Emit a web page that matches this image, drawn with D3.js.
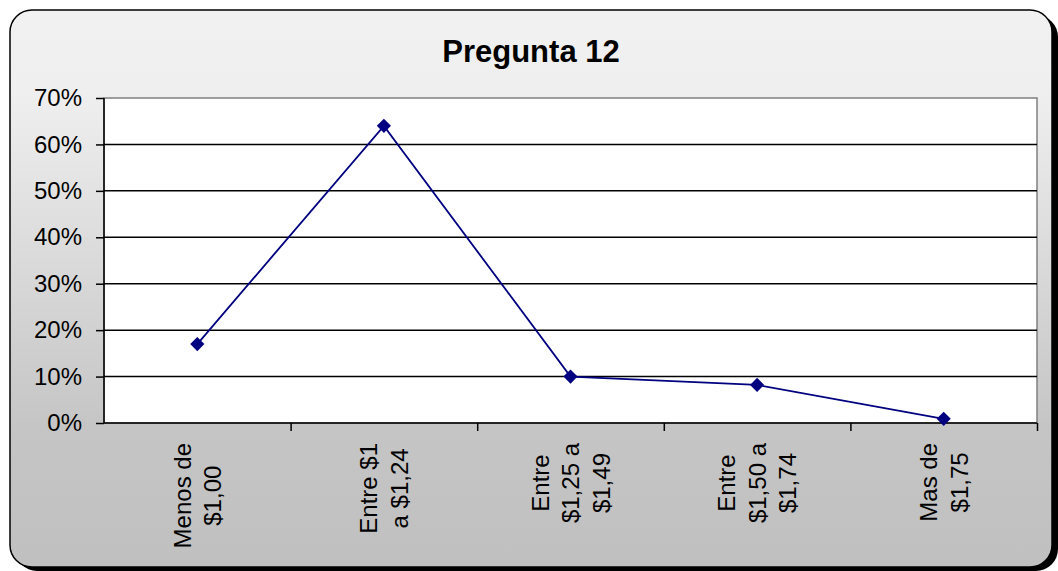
<!DOCTYPE html>
<html><head><meta charset="utf-8">
<script src="https://cdn.jsdelivr.net/npm/d3@7"></script>
<style>body{margin:0;background:#fff}svg{display:block}text{font-family:"Liberation Sans",Arial,sans-serif}</style>
</head><body>
<svg id="c" width="1058" height="571"></svg>
<script>
const title = "Pregunta 12";
const categories = [["Menos de","$1,00"],["Entre $1","a $1,24"],["Entre","$1,25 a","$1,49"],["Entre","$1,50 a","$1,74"],["Mas de","$1,75"]];
const values = [0.17, 0.64, 0.10, 0.082, 0.009];
const yTicks = [0,0.1,0.2,0.3,0.4,0.5,0.6,0.7];

const svg = d3.select("#c");
const defs = svg.append("defs");
const g = defs.append("linearGradient").attr("id","bg").attr("x1",0).attr("y1",0).attr("x2",0).attr("y2",1);
g.append("stop").attr("offset","0").attr("stop-color","#f1f1f1");
g.append("stop").attr("offset","0.15").attr("stop-color","#efefef");
g.append("stop").attr("offset","0.75").attr("stop-color","#c5c5c5");
g.append("stop").attr("offset","1").attr("stop-color","#c0c0c0");

// shadow
svg.append("rect").attr("x",15).attr("y",15).attr("width",1043).attr("height",556).attr("rx",22).attr("fill","#000");
svg.append("rect").attr("x",10).attr("y",10).attr("width",1042).attr("height",557).attr("rx",22)
  .attr("fill","url(#bg)").attr("stroke","#000").attr("stroke-width",1.5);

const L=104, R=1037, T=98, B=423;
const x = d3.scaleBand().domain(d3.range(categories.length)).range([L,R]);
const y = d3.scaleLinear().domain([0,0.7]).range([B,T]);

svg.append("rect").attr("x",L).attr("y",T).attr("width",R-L).attr("height",B-T).attr("fill","#fff")
  .attr("stroke","#808080").attr("stroke-width",1.5);

// gridlines
svg.append("g").selectAll("line").data(yTicks.filter(d=>d>0 && d<0.7)).join("line")
  .attr("x1",L).attr("x2",R).attr("y1",d=>y(d)).attr("y2",d=>y(d)).attr("stroke","#000").attr("stroke-width",1.5);

// y axis
const ya = svg.append("g").attr("transform",`translate(${L},0)`)
  .call(d3.axisLeft(y).tickValues(yTicks).tickFormat(d3.format(".0%")).tickSize(8).tickPadding(14));
ya.select(".domain").attr("stroke","#000").attr("stroke-width",1.5).attr("d",`M0,${T}V${B}`);
ya.selectAll(".tick line").attr("stroke","#000").attr("stroke-width",1.5);
ya.selectAll(".tick text").attr("font-size",24).attr("fill","#000").attr("font-family","Liberation Sans, Arial, sans-serif");

// x axis
const xa = svg.append("g").attr("transform",`translate(0,${B})`)
  .call(d3.axisBottom(d3.scaleLinear().domain([0,categories.length]).range([L,R])).ticks(categories.length).tickSize(8).tickFormat(""));
xa.select(".domain").attr("stroke","#000").attr("stroke-width",1.5).attr("d",`M${L},0H${R}`);
xa.selectAll(".tick line").attr("stroke","#000").attr("stroke-width",1.5);
xa.selectAll(".tick").filter((d)=>d===0).remove();

// category labels
const lh = 30.5, cap = 17.2, topY = 443;
categories.forEach((lines,i)=>{
  const cx = x(i)+x.bandwidth()/2;
  const grp = svg.append("g");
  const texts = lines.map(l=>grp.append("text").text(l).attr("font-size",24).attr("text-anchor","middle").attr("fill","#000"));
  const maxLen = d3.max(texts, t=>t.node().getComputedTextLength());
  const cy = topY + maxLen/2;
  const n = lines.length;
  texts.forEach((t,j)=>{
    const bx = cx + cap/2 + (j-(n-1)/2)*lh;
    t.attr("transform",`translate(${bx},${cy}) rotate(-90)`);
  });
});

// line
const line = d3.line().x((d,i)=>x(i)+x.bandwidth()/2).y(d=>y(d));
svg.append("path").datum(values).attr("d",line).attr("fill","none").attr("stroke","#000080").attr("stroke-width",1.8);
svg.append("g").selectAll("path").data(values).join("path")
  .attr("d",d3.symbol(d3.symbolSquare, 100))
  .attr("transform",(d,i)=>`translate(${x(i)+x.bandwidth()/2},${y(d)}) rotate(45)`)
  .attr("fill","#000080");

// title
svg.append("text").attr("x",531).attr("y",62).attr("text-anchor","middle").attr("font-size",31).attr("font-weight","bold").attr("fill","#000").text(title);
</script>
</body></html>
